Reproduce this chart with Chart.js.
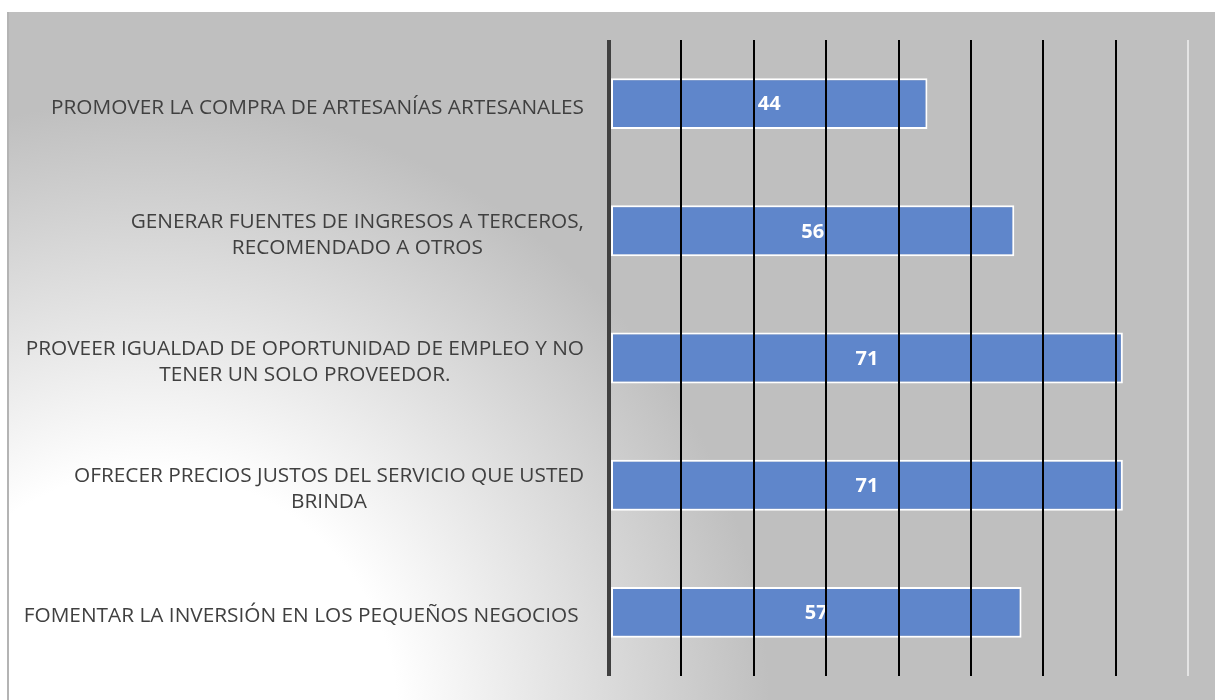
<!DOCTYPE html>
<html lang="es">
<head>
<meta charset="UTF-8">
<title>Gráfico de barras</title>
<script src="https://cdn.jsdelivr.net/npm/chart.js"></script>
<style>
  html, body { margin: 0; padding: 0; background: #fff; }
  .wrap { position: relative; width: 1215px; height: 700px; }
</style>
</head>
<body>
<div class="wrap">
  <canvas id="barChart" width="1215" height="700"></canvas>
</div>
<script>
// datos del gráfico
const categorias = [
  ['PROMOVER LA COMPRA DE ARTESANÍAS ARTESANALES'],
  ['GENERAR FUENTES DE INGRESOS A TERCEROS,', 'RECOMENDADO A OTROS'],
  ['PROVEER IGUALDAD DE OPORTUNIDAD DE EMPLEO Y NO', 'TENER UN SOLO PROVEEDOR.'],
  ['OFRECER PRECIOS JUSTOS DEL SERVICIO QUE USTED', 'BRINDA'],
  ['FOMENTAR LA INVERSIÓN EN LOS PEQUEÑOS NEGOCIOS ']
];
const valores = [44, 56, 71, 71, 57];
const ejeMin = 0;
const ejeMax = 80;
const ejePaso = 10;

const fuenteEtiquetas = '20.8px "Open Sans", sans-serif';
const fuenteDatos = 'bold 20px "Open Sans", sans-serif';

function colorRejilla(v) {
  if (v === ejeMin) return '#404040';
  if (v === ejeMax) return '#e4e4e4';
  return '#000000';
}
function anchoRejilla(v) {
  return v === ejeMin ? 4 : 2;
}

// fondo gris con degradado claro abajo a la izquierda
const fondoPlugin = {
  id: 'fondo',
  beforeDraw(chart) {
    const ctx = chart.ctx;
    ctx.save();
    ctx.fillStyle = '#ffffff';
    ctx.fillRect(0, 0, chart.width, chart.height);
    const g = ctx.createRadialGradient(150, 720, 0, 150, 720, 620);
    g.addColorStop(0, '#ffffff');
    g.addColorStop(0.4, '#ffffff');
    g.addColorStop(1, '#bfbfbf');
    ctx.fillStyle = g;
    ctx.fillRect(8, 12, chart.width - 8, chart.height - 12);
    ctx.fillStyle = '#b4b4b4';
    ctx.fillRect(7, 12, 2, chart.height - 12);
    ctx.restore();
  }
};

// rejilla vertical encima de las barras + etiquetas de categoría
const etiquetasPlugin = {
  id: 'etiquetasY',
  afterDraw(chart) {
    const ctx = chart.ctx;
    const sx = chart.scales.x;
    const area = chart.chartArea;
    ctx.save();
    const marcas = [];
    for (let v = ejeMin; v <= ejeMax; v += ejePaso) marcas.push(v);
    marcas.forEach(v => {
      const w = anchoRejilla(v);
      const x = Math.round(sx.getPixelForValue(v));
      ctx.fillStyle = colorRejilla(v);
      ctx.fillRect(x - w / 2, area.top, w, area.bottom - area.top);
    });
    ctx.restore();

    const y = chart.scales.y;
    const derecha = area.left - 25;
    const altoLinea = 26;
    ctx.save();
    ctx.font = fuenteEtiquetas;
    ctx.fillStyle = '#404040';
    ctx.textBaseline = 'middle';
    categorias.forEach((lineas, i) => {
      const yc = y.getPixelForValue(i) + 4;
      const ancho = Math.max(...lineas.map(l => ctx.measureText(l).width));
      const xc = derecha - ancho / 2;
      const y0 = yc - (lineas.length - 1) * altoLinea / 2;
      lineas.forEach((l, k) => {
        if (lineas.length === 1) {
          ctx.textAlign = 'right';
          ctx.fillText(l, derecha, y0);
        } else {
          ctx.textAlign = 'center';
          ctx.fillText(l, xc, y0 + k * altoLinea);
        }
      });
    });
    ctx.restore();
  }
};

// valores dentro de las barras
const valoresPlugin = {
  id: 'valores',
  afterDatasetsDraw(chart) {
    const ctx = chart.ctx;
    const meta = chart.getDatasetMeta(0);
    ctx.save();
    ctx.font = fuenteDatos;
    ctx.fillStyle = '#ffffff';
    ctx.textAlign = 'center';
    ctx.textBaseline = 'middle';
    meta.data.forEach((bar, i) => {
      const p = bar.getProps(['x', 'y', 'base'], true);
      ctx.fillText(String(valores[i]), (p.x + p.base) / 2, p.y + 1);
    });
    ctx.restore();
  }
};

new Chart(document.getElementById('barChart'), {
  type: 'bar',
  data: {
    labels: categorias,
    datasets: [{
      data: valores,
      backgroundColor: '#5f86cb',
      borderColor: '#ffffff',
      borderWidth: 2,
      borderSkipped: false,
      barPercentage: 0.4,
      categoryPercentage: 1
    }]
  },
  options: {
    indexAxis: 'y',
    responsive: false,
    animation: false,
    layout: { padding: { left: 609, top: 40, right: 27, bottom: 24 } },
    plugins: {
      legend: { display: false },
      tooltip: { enabled: false }
    },
    scales: {
      x: {
        min: ejeMin,
        max: ejeMax,
        ticks: { display: false, stepSize: ejePaso },
        border: { display: false },
        grid: {
          drawTicks: false,
          color: c => colorRejilla(c.tick.value),
          lineWidth: c => anchoRejilla(c.tick.value)
        }
      },
      y: {
        display: false
      }
    }
  },
  plugins: [fondoPlugin, etiquetasPlugin, valoresPlugin]
});
</script>
</body>
</html>
